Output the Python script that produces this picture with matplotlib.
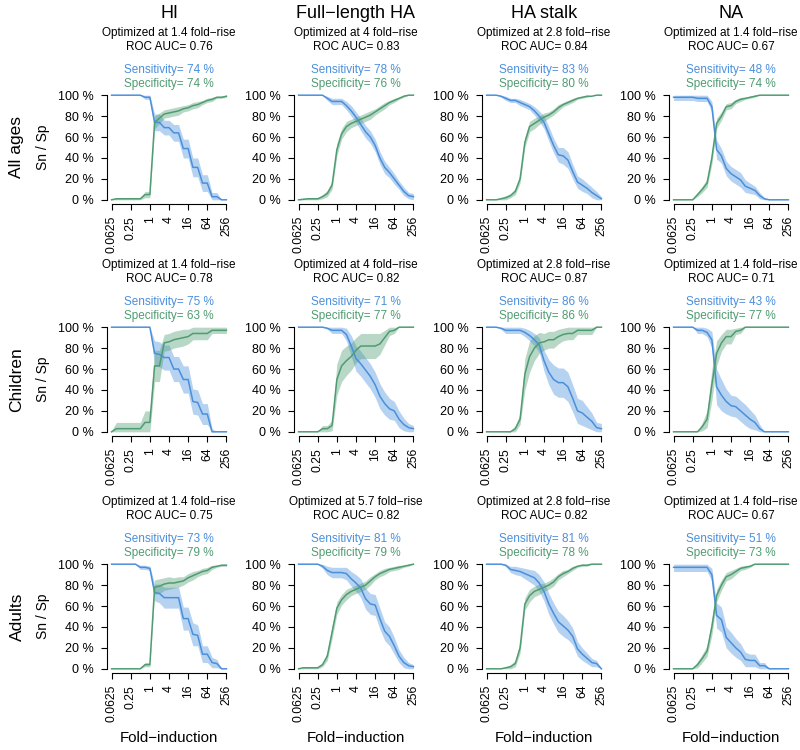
# Sensitivity / specificity vs fold-induction cut-off, per antigen and age group

import numpy as np
import matplotlib.pyplot as plt

plt.rcParams['font.family'] = ['Liberation Sans', 'DejaVu Sans']

fold = [0.0625, 0.088, 0.125, 0.177, 0.25, 0.354, 0.5, 0.707, 1, 1.41, 2, 2.83,
        4, 5.66, 8, 11.3, 16, 22.6, 32, 45.3, 64, 90.5, 128, 181, 256]

antigens = ["HI", "Full−length HA", "HA stalk", "NA"]
groups = ["All ages", "Children", "Adults"]
xticks = [0.0625, 0.25, 1, 4, 16, 64, 256]
xticklabels = ["0.0625", "0.25", "1", "4", "16", "64", "256"]

opt_fold = [[1.4, 4, 2.8, 1.4], [1.4, 4, 2.8, 1.4], [1.4, 5.7, 2.8, 1.4]]
roc_auc = [[0.76, 0.83, 0.84, 0.67], [0.78, 0.82, 0.87, 0.71], [0.75, 0.82, 0.82, 0.67]]
sens_opt = [[74, 78, 83, 48], [75, 71, 86, 43], [73, 81, 81, 51]]
spec_opt = [[74, 76, 80, 74], [63, 77, 86, 77], [79, 79, 78, 73]]

# ---- All ages ----
all_hi_sn = [100, 100, 100, 100, 100, 100, 100, 98, 98, 74, 74, 69, 69, 64, 64, 49, 49, 31, 31, 16, 16, 3, 3, 0, 0]
all_hi_sn_ci = [0, 0, 0, 0, 0, 0, 0, 2, 2, 8, 8, 7, 7, 8, 8, 9, 9, 9, 9, 8, 8, 4, 4, 0, 0]
all_hi_sp = [0, 1, 1, 1, 1, 1, 1, 5, 5, 74, 78, 82, 83, 84, 85, 87, 88, 90, 91, 93, 95, 96, 98, 98, 99]
all_hi_sp_ci = [0, 1, 1, 1, 1, 1, 1, 3, 3, 6, 5, 4, 4, 4, 4, 3, 3, 3, 3, 2, 2, 2, 1, 1, 1]

all_ha_sn = [100, 100, 100, 100, 100, 100, 97, 94, 94, 94, 90, 85, 79, 72, 65, 60, 52, 40, 31, 26, 20, 14, 8, 4, 3]
all_ha_sn_ci = [0, 0, 0, 0, 0, 0, 2, 3, 3, 3, 4, 5, 5, 6, 6, 6, 6, 6, 6, 5, 5, 4, 4, 3, 3]
all_ha_sp = [0, 0.5, 1, 1, 1, 3, 6, 14, 48, 63, 70, 73, 75, 77, 79, 81, 84, 87, 90, 93, 95, 97, 99, 100, 100]
all_ha_sp_ci = [1, 1, 1, 1, 1, 2, 3, 4, 6, 5, 5, 4, 4, 4, 4, 4, 3, 3, 3, 2, 2, 1, 1, 0, 0]

all_st_sn = [100, 100, 100, 99, 97, 95, 95, 93, 91, 89, 85, 80, 74, 63, 52, 43, 42, 38, 27, 17, 14, 11, 7, 4, 1]
all_st_sn_ci = [0, 0, 0, 1, 2, 2, 2, 3, 3, 3, 4, 5, 6, 7, 7, 7, 8, 8, 7, 6, 6, 5, 5, 4, 2]
all_st_sp = [0, 0, 0, 1, 2, 4, 8, 20, 55, 70, 73, 76, 79, 81, 84, 88, 91, 93, 95, 97, 98, 99, 99, 100, 100]
all_st_sp_ci = [0, 0, 0, 1, 2, 2, 3, 4, 5, 5, 5, 4, 4, 3, 3, 3, 2, 2, 2, 1, 1, 1, 0, 0, 0]

all_na_sn = [98, 98, 98, 98, 98, 97, 97, 97, 89, 48, 42, 30, 25, 22, 19, 13, 11, 9, 4, 1, 0, 0, 0, 0, 0]
all_na_sn_ci = [3, 3, 3, 3, 3, 3, 3, 3, 5, 9, 7, 7, 7, 7, 7, 6, 5, 4, 3, 1, 0, 0, 0, 0, 0]
all_na_sp = [0, 0, 0, 0, 0, 5, 10, 16, 40, 73, 80, 89, 90, 94, 96, 97, 98, 99, 100, 100, 100, 100, 100, 100, 100]
all_na_sp_ci = [0, 0, 0, 0, 0, 2, 3, 4, 6, 5, 4, 3, 3, 2, 2, 1, 1, 1, 0, 0, 0, 0, 0, 0, 0]

# ---- Children ----
chi_hi_sn = [100, 100, 100, 100, 100, 100, 100, 100, 100, 75, 74, 71, 71, 60, 60, 50, 50, 29, 28, 17, 17, 0, 0, 0, 0]
chi_hi_sn_ci = [0, 0, 0, 0, 0, 0, 0, 0, 0, 12, 12, 12, 12, 12, 12, 13, 13, 12, 12, 10, 10, 3, 0, 0, 0]
chi_hi_sp = [0, 3, 3, 3, 3, 3, 3, 9, 9, 63, 63, 85, 86, 88, 89, 90, 91, 94, 94, 94, 94, 97, 97, 97, 97]
chi_hi_sp_ci = [1, 6, 6, 6, 6, 6, 6, 11, 11, 15, 15, 8, 8, 8, 8, 8, 7, 6, 6, 6, 6, 3, 3, 3, 3]

chi_ha_sn = [100, 100, 100, 100, 100, 100, 99, 97, 97, 97, 93, 82, 70, 65, 59, 53, 45, 34, 27, 22, 20, 12, 7, 4, 3]
chi_ha_sn_ci = [0, 0, 0, 0, 0, 0, 1, 3, 3, 3, 6, 10, 12, 12, 12, 12, 12, 12, 11, 10, 9, 8, 6, 4, 3]
chi_ha_sp = [0, 0, 0, 0, 0, 3, 3, 6, 50, 63, 68, 72, 78, 82, 82, 82, 82, 84, 90, 96, 97, 100, 100, 100, 100]
chi_ha_sp_ci = [0, 0, 0, 0, 0, 3, 3, 5, 15, 15, 14, 13, 12, 12, 12, 12, 12, 10, 7, 4, 3, 0, 0, 0, 0]

chi_st_sn = [100, 100, 100, 99, 97, 97, 97, 97, 95, 92, 88, 83, 68, 57, 50, 47, 47, 43, 32, 20, 18, 14, 10, 4, 3]
chi_st_sn_ci = [0, 0, 0, 1, 3, 3, 3, 3, 4, 5, 6, 7, 10, 12, 14, 14, 14, 14, 13, 12, 12, 10, 8, 5, 5]
chi_st_sp = [0, 0, 0, 0, 0, 0, 3, 12, 55, 72, 80, 85, 86, 88, 88, 91, 93, 94, 94, 97, 97, 97, 97, 100, 100]
chi_st_sp_ci = [0, 0, 0, 0, 0, 1, 3, 5, 15, 15, 12, 10, 8, 8, 8, 7, 6, 6, 6, 4, 4, 4, 4, 0, 0]

chi_na_sn = [100, 100, 100, 100, 100, 97, 97, 95, 88, 43, 35, 29, 25, 24, 20, 16, 12, 9, 3, 0, 0, 0, 0, 0, 0]
chi_na_sn_ci = [0, 0, 0, 0, 0, 3, 3, 4, 8, 17, 15, 12, 10, 10, 10, 10, 9, 7, 4, 0, 0, 0, 0, 0, 0]
chi_na_sp = [0, 0, 0, 0, 0, 0, 5, 12, 45, 75, 85, 91, 91, 96, 97, 100, 100, 100, 100, 100, 100, 100, 100, 100, 100]
chi_na_sp_ci = [0, 0, 0, 0, 0, 0, 4, 8, 15, 12, 8, 7, 7, 3, 3, 0, 0, 0, 0, 0, 0, 0, 0, 0, 0]

# ---- Adults ----
adu_hi_sn = [100, 100, 100, 100, 100, 100, 97, 97, 96, 73, 72, 68, 68, 68, 68, 48, 48, 33, 32, 14, 14, 6, 5, 0, 0]
adu_hi_sn_ci = [0, 0, 0, 0, 0, 0, 2, 2, 2, 8, 9, 10, 10, 10, 10, 11, 11, 11, 10, 8, 8, 5, 4, 0, 0]
adu_hi_sp = [0, 0, 0, 0, 0, 0, 0, 4, 4, 78, 79, 81, 82, 82, 83, 84, 87, 89, 91, 93, 94, 97, 98, 99, 99]
adu_hi_sp_ci = [0, 0, 0, 0, 0, 0, 0, 2, 2, 7, 7, 6, 6, 5, 5, 4, 4, 4, 3, 3, 3, 2, 1, 1, 1]

adu_ha_sn = [100, 100, 100, 100, 100, 98, 94, 92, 92, 92, 91, 86, 82, 77, 67, 62, 61, 48, 36, 31, 22, 12, 6, 3, 2]
adu_ha_sn_ci = [0, 0, 0, 0, 0, 2, 4, 5, 5, 5, 6, 7, 8, 9, 10, 10, 10, 10, 9, 9, 8, 6, 5, 3, 2]
adu_ha_sp = [0, 1, 1, 1, 1, 4, 12, 35, 58, 66, 71, 74, 76, 78, 80, 84, 88, 91, 93, 95, 96, 97, 98, 99, 100]
adu_ha_sp_ci = [0, 1, 1, 1, 1, 2, 4, 6, 6, 5, 5, 4, 4, 4, 4, 4, 3, 3, 3, 2, 2, 2, 1, 1, 0]

adu_st_sn = [100, 100, 100, 100, 99, 95, 94, 93, 91, 89, 87, 82, 74, 62, 53, 45, 41, 37, 31, 19, 14, 10, 6, 5, 0]
adu_st_sn_ci = [0, 0, 0, 0, 1, 3, 4, 4, 5, 6, 7, 8, 9, 10, 10, 10, 10, 9, 8, 7, 6, 5, 4, 3, 0]
adu_st_sp = [0, 0, 0, 0, 1, 2, 5, 20, 62, 70, 74, 76, 78, 80, 83, 88, 91, 93, 96, 98, 99, 99, 100, 100, 100]
adu_st_sp_ci = [0, 0, 0, 0, 1, 2, 3, 5, 6, 6, 5, 5, 4, 4, 4, 3, 3, 2, 2, 1, 1, 1, 0, 0, 0]

adu_na_sn = [97, 97, 97, 97, 97, 97, 97, 97, 90, 51, 47, 30, 25, 20, 16, 9, 8, 8, 3, 3, 0, 0, 0, 0, 0]
adu_na_sn_ci = [4, 4, 4, 4, 4, 4, 4, 4, 6, 12, 12, 10, 10, 9, 8, 7, 6, 6, 3, 3, 0, 0, 0, 0, 0]
adu_na_sp = [0, 0, 0, 0, 0, 4, 10, 17, 40, 70, 80, 88, 90, 93, 96, 97, 98, 100, 100, 100, 100, 100, 100, 100, 100]
adu_na_sp_ci = [0, 0, 0, 0, 0, 3, 4, 5, 8, 6, 5, 4, 4, 3, 2, 2, 1, 0, 0, 0, 0, 0, 0, 0, 0]

sn_rows = [[all_hi_sn, all_ha_sn, all_st_sn, all_na_sn],
           [chi_hi_sn, chi_ha_sn, chi_st_sn, chi_na_sn],
           [adu_hi_sn, adu_ha_sn, adu_st_sn, adu_na_sn]]
sn_ci_rows = [[all_hi_sn_ci, all_ha_sn_ci, all_st_sn_ci, all_na_sn_ci],
              [chi_hi_sn_ci, chi_ha_sn_ci, chi_st_sn_ci, chi_na_sn_ci],
              [adu_hi_sn_ci, adu_ha_sn_ci, adu_st_sn_ci, adu_na_sn_ci]]
sp_rows = [[all_hi_sp, all_ha_sp, all_st_sp, all_na_sp],
           [chi_hi_sp, chi_ha_sp, chi_st_sp, chi_na_sp],
           [adu_hi_sp, adu_ha_sp, adu_st_sp, adu_na_sp]]
sp_ci_rows = [[all_hi_sp_ci, all_ha_sp_ci, all_st_sp_ci, all_na_sp_ci],
              [chi_hi_sp_ci, chi_ha_sp_ci, chi_st_sp_ci, chi_na_sp_ci],
              [adu_hi_sp_ci, adu_ha_sp_ci, adu_st_sp_ci, adu_na_sp_ci]]

blue = "#4a8fdc"
green = "#4f9c72"

W, H = 800, 750
fig = plt.figure(figsize=(8, 7.5), dpi=100)

col_left = [107, 294, 482, 669]     # px, plot region left edges
col_w = 124
row_top = [91, 323, 560]            # px
row_h = 113

for r in range(3):
    for c in range(4):
        ax = fig.add_axes([col_left[c] / W, 1 - (row_top[r] + row_h) / H,
                           col_w / W, row_h / H])
        sn = np.array(sn_rows[r][c], float)
        sn_ci = np.array(sn_ci_rows[r][c], float)
        sp = np.array(sp_rows[r][c], float)
        sp_ci = np.array(sp_ci_rows[r][c], float)

        ax.fill_between(fold, np.clip(sn - sn_ci, 0, 100), np.clip(sn + sn_ci, 0, 100),
                        color=blue, alpha=0.4, lw=0)
        ax.fill_between(fold, np.clip(sp - sp_ci, 0, 100), np.clip(sp + sp_ci, 0, 100),
                        color=green, alpha=0.4, lw=0)
        ax.plot(fold, sn, color=blue, lw=1.1)
        ax.plot(fold, sp, color=green, lw=1.1)

        ax.set_xscale('log', base=2)
        ax.set_xlim(0.0625 / 2 ** 0.48, 256 * 2 ** 0.48)
        ax.set_ylim(-4, 104)
        ax.set_xticks(xticks)
        ax.set_xticklabels(xticklabels, rotation=90, fontsize=8.8)
        ax.xaxis.set_minor_locator(plt.NullLocator())
        ax.set_yticks([0, 20, 40, 60, 80, 100])
        ax.set_yticklabels(["0 %", "20 %", "40 %", "60 %", "80 %", "100 %"], fontsize=9)
        ax.tick_params(length=4.5, width=0.8)
        ax.tick_params(axis='y', pad=5)
        ax.tick_params(axis='x', pad=4)
        for s in ['top', 'right']:
            ax.spines[s].set_visible(False)
        ax.spines['left'].set_bounds(0, 100)
        ax.spines['bottom'].set_bounds(0.0625, 256)
        ax.spines['left'].set_linewidth(0.8)
        ax.spines['bottom'].set_linewidth(0.8)
        ax.patch.set_visible(False)

        xc = (col_left[c] + col_w / 2) / W
        top = row_top[r]
        fig.text(xc, 1 - (top - 58) / H, f"Optimized at {opt_fold[r][c]:g} fold−rise",
                 ha='center', va='center', fontsize=8.5)
        fig.text(xc, 1 - (top - 44) / H, f"ROC AUC= {roc_auc[r][c]:.2f}",
                 ha='center', va='center', fontsize=8.5)
        fig.text(xc, 1 - (top - 21) / H, f"Sensitivity= {sens_opt[r][c]} %",
                 ha='center', va='center', fontsize=8.5, color=blue)
        fig.text(xc, 1 - (top - 7) / H, f"Specificity= {spec_opt[r][c]} %",
                 ha='center', va='center', fontsize=8.5, color=green)
        if r == 0:
            fig.text(xc, 1 - 13 / H, antigens[c], ha='center', va='center', fontsize=13)
        if r == 2:
            fig.text(xc, 1 - 738 / H, "Fold−induction", ha='center', va='center', fontsize=10.8)
        if c == 0:
            yc = 1 - (top + row_h / 2) / H
            fig.text(17 / W, yc, groups[r], rotation=90, ha='center', va='center', fontsize=12.5)
            fig.text(43 / W, yc, "Sn / Sp", rotation=90, ha='center', va='center', fontsize=10)

plt.savefig("out.png", dpi=100)
